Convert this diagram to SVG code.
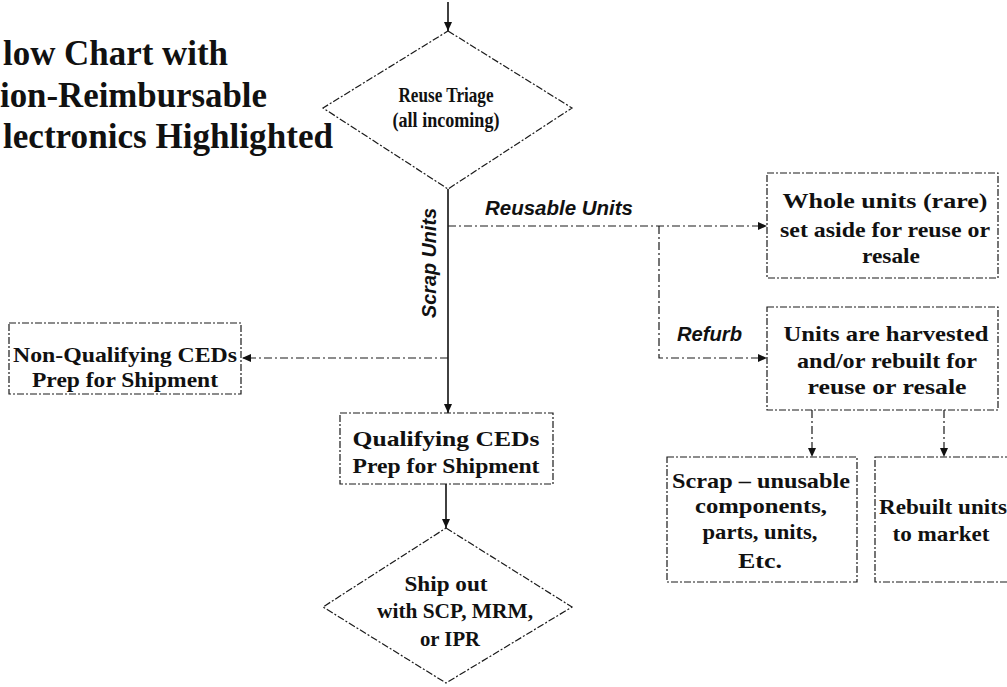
<svg xmlns="http://www.w3.org/2000/svg" width="1007" height="687" viewBox="0 0 1007 687">
  <style>
    .shape { fill: #fff; stroke: #1a1a1a; stroke-width: 1.2; stroke-dasharray: 7 2 2 2; }
    .link { fill: none; stroke: #1a1a1a; stroke-width: 1.2; stroke-dasharray: 8 3 2 3; }
    .solid { fill: none; stroke: #111; stroke-width: 1.6; }
    .node { font-family: "Liberation Serif", "Times New Roman", serif; font-weight: bold; fill: #111; text-anchor: middle; }
    .title { font-family: "Liberation Serif", "Times New Roman", serif; font-weight: bold; font-size: 36px; fill: #111; }
    .label { font-family: "Liberation Sans", Arial, sans-serif; font-weight: bold; font-style: italic; font-size: 20px; fill: #111; }
  </style>
  <defs>
    <marker id="arrow" viewBox="0 0 9 8" refX="9" refY="4" markerWidth="9" markerHeight="8" markerUnits="userSpaceOnUse" orient="auto">
      <path d="M0,0 L9,4 L0,8 Z" fill="#111"/>
    </marker>
  </defs>
  <rect width="1007" height="687" fill="#fff"/>

  <!-- heading, left edge runs off the page -->
  <g id="heading">
    <text class="title" x="3" y="65" textLength="225" lengthAdjust="spacingAndGlyphs">low Chart with</text>
    <text class="title" x="0" y="107" textLength="267" lengthAdjust="spacingAndGlyphs">ion-Reimbursable</text>
    <text class="title" x="3" y="148" textLength="330" lengthAdjust="spacingAndGlyphs">lectronics Highlighted</text>
  </g>

  <!-- connectors -->
  <g id="connectors">
    <line class="solid" x1="448" y1="2" x2="448" y2="31" marker-end="url(#arrow)"/>
    <line class="solid" x1="448" y1="189" x2="448" y2="413" marker-end="url(#arrow)"/>
    <line class="link" x1="448" y1="226" x2="767" y2="226" marker-end="url(#arrow)"/>
    <polyline class="link" points="659,226 659,358 767,358" marker-end="url(#arrow)"/>
    <line class="link" x1="448" y1="358" x2="242" y2="358" marker-end="url(#arrow)"/>
    <line class="solid" x1="446" y1="484" x2="446" y2="528" marker-end="url(#arrow)"/>
    <line class="link" x1="812" y1="410" x2="812" y2="457" marker-end="url(#arrow)"/>
    <line class="link" x1="944" y1="410" x2="944" y2="457" marker-end="url(#arrow)"/>
    <text class="label" x="485" y="215" textLength="148" lengthAdjust="spacingAndGlyphs">Reusable Units</text>
    <text class="label" x="677" y="341" textLength="65" lengthAdjust="spacingAndGlyphs">Refurb</text>
    <text class="label" transform="translate(436,263) rotate(-90)" text-anchor="middle" textLength="110" lengthAdjust="spacingAndGlyphs">Scrap Units</text>
  </g>

  <g id="reuse-triage">
    <polygon class="shape" points="448,31 572,108 448,189 323,108"/>
    <text class="node" x="446" y="102" font-size="21" textLength="95" lengthAdjust="spacingAndGlyphs">Reuse Triage</text>
    <text class="node" x="446" y="127" font-size="21" textLength="107" lengthAdjust="spacingAndGlyphs">(all incoming)</text>
  </g>

  <g id="whole-units">
    <rect class="shape" x="767" y="173" width="231" height="105"/>
    <text class="node" x="885" y="208" font-size="22" textLength="205" lengthAdjust="spacingAndGlyphs">Whole units (rare)</text>
    <text class="node" x="885" y="237" font-size="22" textLength="210" lengthAdjust="spacingAndGlyphs">set aside for reuse or</text>
    <text class="node" x="891" y="263" font-size="22" textLength="58" lengthAdjust="spacingAndGlyphs">resale</text>
  </g>

  <g id="harvested">
    <rect class="shape" x="767" y="307" width="231" height="103"/>
    <text class="node" x="886" y="341" font-size="22" textLength="205" lengthAdjust="spacingAndGlyphs">Units are harvested</text>
    <text class="node" x="887" y="368" font-size="22" textLength="180" lengthAdjust="spacingAndGlyphs">and/or rebuilt for</text>
    <text class="node" x="887" y="394" font-size="22" textLength="159" lengthAdjust="spacingAndGlyphs">reuse or resale</text>
  </g>

  <g id="non-qualifying">
    <rect class="shape" x="9" y="323" width="232" height="71"/>
    <text class="node" x="125" y="362" font-size="21" textLength="224" lengthAdjust="spacingAndGlyphs">Non-Qualifying CEDs</text>
    <text class="node" x="125" y="387" font-size="21" textLength="186" lengthAdjust="spacingAndGlyphs">Prep for Shipment</text>
  </g>

  <g id="qualifying">
    <rect class="shape" x="340" y="413" width="213" height="71"/>
    <text class="node" x="446" y="446" font-size="21" textLength="187" lengthAdjust="spacingAndGlyphs">Qualifying CEDs</text>
    <text class="node" x="446" y="473" font-size="21" textLength="187" lengthAdjust="spacingAndGlyphs">Prep for Shipment</text>
  </g>

  <g id="ship-out">
    <polygon class="shape" points="446,528 572,607 446,683 323,607"/>
    <text class="node" x="446" y="591" font-size="20" textLength="83" lengthAdjust="spacingAndGlyphs">Ship out</text>
    <text class="node" x="455" y="618" font-size="20" textLength="156" lengthAdjust="spacingAndGlyphs">with SCP, MRM,</text>
    <text class="node" x="450" y="646" font-size="20" textLength="60" lengthAdjust="spacingAndGlyphs">or IPR</text>
  </g>

  <g id="scrap">
    <rect class="shape" x="667" y="457" width="190" height="125"/>
    <text class="node" x="761" y="488" font-size="21" textLength="178" lengthAdjust="spacingAndGlyphs">Scrap – unusable</text>
    <text class="node" x="761" y="513" font-size="21" textLength="132" lengthAdjust="spacingAndGlyphs">components,</text>
    <text class="node" x="760" y="539" font-size="21" textLength="115" lengthAdjust="spacingAndGlyphs">parts, units,</text>
    <text class="node" x="760" y="568" font-size="21" textLength="44" lengthAdjust="spacingAndGlyphs">Etc.</text>
  </g>

  <g id="rebuilt">
    <rect class="shape" x="875" y="457" width="140" height="125"/>
    <text class="node" x="943" y="514" font-size="21" textLength="128" lengthAdjust="spacingAndGlyphs">Rebuilt units</text>
    <text class="node" x="941" y="541" font-size="21" textLength="97" lengthAdjust="spacingAndGlyphs">to market</text>
  </g>
</svg>
